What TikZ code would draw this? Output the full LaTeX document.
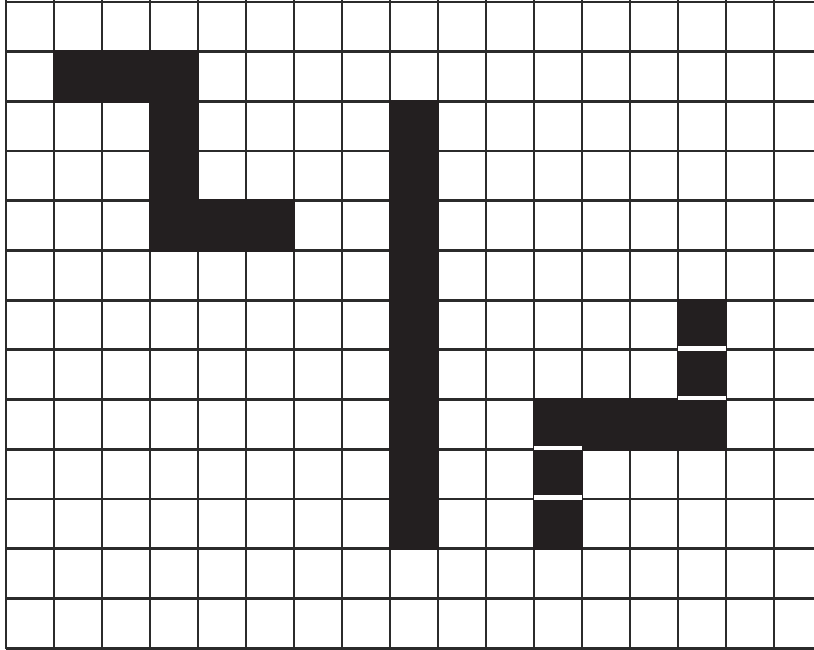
\documentclass[tikz,border=0pt]{standalone}
\usetikzlibrary{positioning}
\definecolor{inkblack}{HTML}{231F20}
\definecolor{gridgray}{HTML}{2B2B2B}

\begin{document}
\begin{tikzpicture}[
    x=0.48cm, y=0.497cm,
    gridline/.style={draw=gridgray, line width=0.8pt},
    block/.style={fill=inkblack, draw=inkblack, line width=0.8pt},
    gap/.style={draw=white, line width=1.2pt}
]

% Frame
\useasboundingbox (-0.125, -0.02) rectangle (16.833, 13.04);

% Grid
\foreach \i in {0,...,16}
    \draw[gridline] (\i, -0.02) -- (\i, 13.04);
\foreach \j in {0,...,13}
    \draw[gridline] (0, \j) -- (16.833, \j);

% Left shape
\path[block] (1,12) -- (4,12) -- (4,9) -- (6,9) -- (6,8) -- (3,8) -- (3,11) -- (1,11) -- cycle;

% Middle bar
\path[block] (8,2) rectangle (9,11);

% Right shape
\path[block] (14,5) rectangle (15,7);
\path[block] (11,4) rectangle (15,5);
\path[block] (11,2) rectangle (12,4);

% Gaps between the single cells
\foreach \x/\y in {14/6, 14/5, 11/4, 11/3}
    \draw[gap] (\x, \y+0.03) -- (\x+1, \y+0.03);

\end{tikzpicture}
\end{document}
